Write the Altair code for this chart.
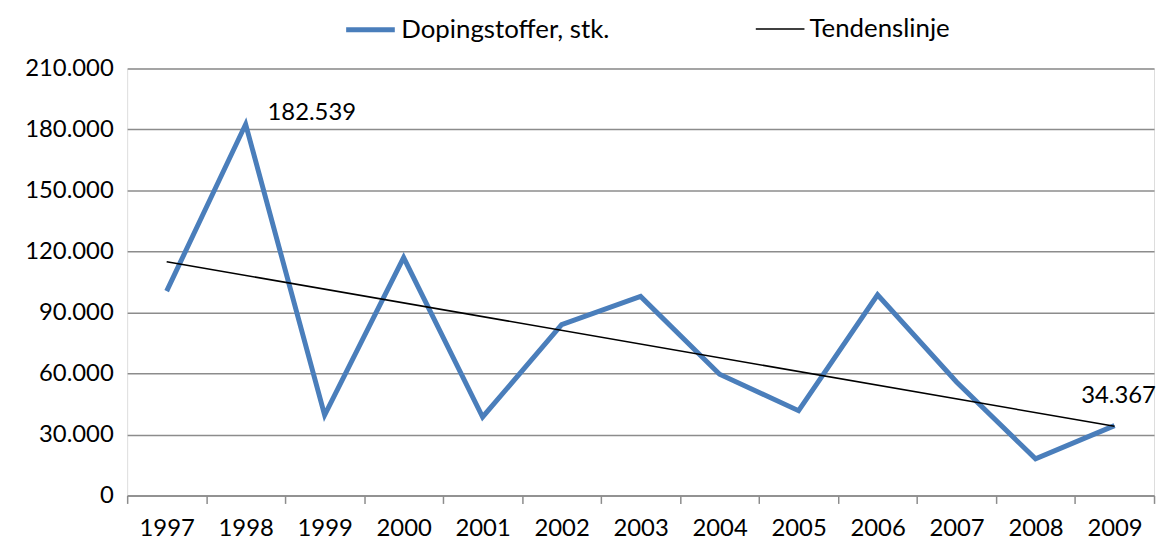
import altair as alt
import pandas as pd

years = [1997, 1998, 1999, 2000, 2001, 2002, 2003, 2004, 2005, 2006, 2007, 2008, 2009]
values = [100500, 182539, 39500, 117000, 38600, 84000, 97900, 59600, 41700, 98700, 55800, 18000, 34367]
series_main = "Dopingstoffer, stk."
series_trend = "Tendenslinje"
y_ticks = [0, 30000, 60000, 90000, 120000, 150000, 180000, 210000]

df = pd.DataFrame({"year": years, "value": values, "series": series_main})

FONT = "Lato"
BLUE = "#4a7ebb"
GRID = "#8c8c8c"

legend_cfg = dict(
    title=None, orient="none", direction="horizontal", legendX=218, legendY=-66,
    symbolType="stroke", symbolSize=2400, labelFont=FONT, labelFontSize=26,
    labelColor="#000000", labelOffset=4, columnPadding=143, labelLimit=400,
)

color = alt.Color(
    "series:N",
    scale=alt.Scale(domain=[series_main, series_trend], range=[BLUE, "#000000"]),
    legend=alt.Legend(**legend_cfg),
)
sw = alt.StrokeWidth(
    "series:N",
    scale=alt.Scale(domain=[series_main, series_trend], range=[5, 1.6]),
    legend=alt.Legend(**legend_cfg),
)

x = alt.X(
    "year:O",
    bandPosition=0.5,
    scale=alt.Scale(type="band", domain=years, paddingInner=0, paddingOuter=0),
    axis=alt.Axis(
        title=None, tickBand="extent", tickSize=8, tickColor=GRID, tickWidth=1.5,
        domainColor=GRID, domainWidth=1.5, labelFont=FONT, labelFontSize=24,
        labelColor="#000000", labelPadding=13, labelAngle=0, grid=False,
    ),
)
y = alt.Y(
    "value:Q",
    scale=alt.Scale(domain=[0, 210000], nice=False),
    axis=alt.Axis(
        title=None, values=y_ticks, grid=True, gridColor=GRID, gridWidth=1.5,
        domain=False, ticks=False, labelFont=FONT, labelFontSize=24,
        labelColor="#000000", labelPadding=14,
        labelExpr="replace(format(datum.value, ','), ',', '.')",
    ),
)

base = alt.Chart(df)

main = base.mark_line(strokeJoin="miter").encode(x=x, y=y, color=color, strokeWidth=sw)

trend = (
    base.transform_regression("year", "value", method="linear")
    .transform_calculate(series=f"'{series_trend}'")
    .mark_line()
    .encode(x=x, y=y, color=color, strokeWidth=sw)
)

labels = base.transform_calculate(txt="replace(format(datum.value, ','), ',', '.')")
lab1998 = (
    labels.transform_filter("datum.year == 1998")
    .mark_text(align="left", baseline="middle", dx=22, dy=-11, font=FONT, fontSize=24, color="#000000")
    .encode(x=x, y=y, text="txt:N")
)
lab2009 = (
    labels.transform_filter("datum.year == 2009")
    .mark_text(align="center", baseline="middle", dx=4, dy=-30, font=FONT, fontSize=24, color="#000000")
    .encode(x=x, y=y, text="txt:N")
)

chart = (
    alt.layer(main, trend, lab1998, lab2009)
    .resolve_scale(color="shared", strokeWidth="shared")
    .properties(
        width=1034,
        height=430,
        autosize=alt.AutoSizeParams(type="none"),
        padding={"left": 120, "top": 59, "right": 4, "bottom": 47},
    )
    .configure_view(stroke=None)
    .configure(background="#ffffff")
)

chart.save("out.html", embed_options={"renderer": "svg", "actions": False})
